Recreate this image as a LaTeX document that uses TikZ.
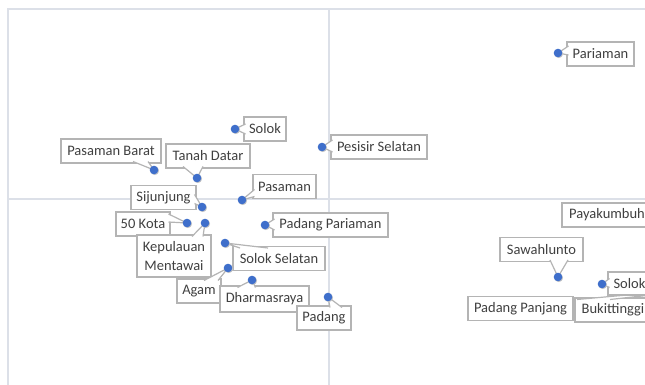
\documentclass[tikz,border=0pt]{standalone}
\usepackage{fontspec}
\setmainfont{Carlito}
\usepackage{tikz}
\usetikzlibrary{calc}
\definecolor{gridgrey}{HTML}{DCE0E8}
\definecolor{boxgrey}{HTML}{B4B4B4}
\definecolor{labeltext}{HTML}{404040}
\definecolor{dotblue}{HTML}{3F6FCB}

\tikzset{
  lbl/.style={draw=boxgrey, line width=1.2pt, fill=white, text=labeltext, inner sep=0pt, outer sep=0pt,
    minimum height=24pt, font=\fontsize{14.5}{19}\selectfont},
  wedge/.style={draw=boxgrey, line width=1.2pt, fill=white, line join=round},
  gridline/.style={draw=gridgrey, line width=1.5pt},
  pt/.style={fill=dotblue}
}

\begin{document}
\begin{tikzpicture}[x=1pt,y=-1pt]
            \useasboundingbox (0,0) rectangle (645,385);
            \clip (0,0) rectangle (645,385);

            \draw[gridline, line width=2pt] (8,385) -- (8,9) -- (645,9);
            \draw[gridline] (8,199) -- (645,199);
            \draw[gridline] (329,9) -- (329,385);

            \coordinate (pariamanPt) at (558,53);
            \coordinate (solokPt) at (235,129);
            \coordinate (pesisirPt) at (322,147);
            \coordinate (pasbaratPt) at (154,170);
            \coordinate (tanahPt) at (197,178);
            \coordinate (pasamanPt) at (242,200);
            \coordinate (sijunjungPt) at (202,207);
            \coordinate (kotaPt) at (187,223);
            \coordinate (mentawaiPt) at (205,223);
            \coordinate (padparPt) at (265,225);
            \coordinate (solselPt) at (225,243);
            \coordinate (agamPt) at (228,268);
            \coordinate (dharmasPt) at (252,280);
            \coordinate (padangPt) at (328,297);
            \coordinate (sawahPt) at (558,277);
            \coordinate (solokkotaPt) at (602,284);
            \coordinate (bukitPt) at (760,283);

            \node[lbl, minimum width=100pt] (pasbarat) at (111,151) {Pasaman Barat};
            \path[wedge] ($(pasbarat.south)+(22,-1.5)$) -- (pasbaratPt) -- ($(pasbarat.south)+(37,-1.5)$);

            \node[lbl, minimum width=84pt] (tanah) at (208,156) {Tanah Datar};
            \path[wedge] ($(tanah.south)+(-25,-1.5)$) -- (tanahPt) -- ($(tanah.south)+(-5,-1.5)$);

            \node[lbl, minimum width=42pt] (solok) at (265,129) {Solok};
            \path[wedge] ($(solok.west)+(1.5,-5)$) -- (solokPt) -- ($(solok.west)+(1.5,5)$);

            \node[lbl, minimum width=96pt] (pesisir) at (379,147) {Pesisir Selatan};
            \path[wedge] ($(pesisir.west)+(1.5,-7)$) -- (pesisirPt) -- ($(pesisir.west)+(1.5,5)$);

            \node[lbl, minimum width=63pt] (pasaman) at (284.5,186.5) {Pasaman};
            \path[wedge] ($(pasaman.west)+(1.5,3)$) -- (pasamanPt) -- ($(pasaman.west)+(1.5,10)$);

            \node[lbl, minimum width=65pt] (sijunjung) at (163.5,197.5) {Sijunjung};
            \path[wedge] ($(sijunjung.east)+(-1.5,-3)$) -- (sijunjungPt) -- ($(sijunjung.east)+(-1.5,6)$);

            \node[lbl, minimum width=54pt] (kota) at (143,224) {50 Kota};
            \path[wedge] ($(kota.east)+(-1.5,-10)$) -- (kotaPt) -- ($(kota.east)+(-1.5,-2)$);

            \node[lbl, minimum width=115pt] (padpar) at (330.5,225) {Padang Pariaman};
            \path[wedge] ($(padpar.west)+(1.5,-6)$) -- (padparPt) -- ($(padpar.west)+(1.5,5)$);

            \node[lbl, minimum width=92pt] (solsel) at (279,258.5) {Solok Selatan};
            \path[wedge] ($(solsel.north)+(-39,1.5)$) -- (solselPt) -- ($(solsel.north)+(-11,1.5)$);

            \node[lbl, minimum width=74pt, minimum height=42pt, align=center] (mentawai) at (174,256) {Kepulauan\\Mentawai};
            \path[wedge] ($(mentawai.north)+(18,1.5)$) -- (mentawaiPt) -- ($(mentawai.north)+(29,1.5)$);

            \node[lbl, minimum width=44pt] (agam) at (199,291) {Agam};
            \path[wedge] ($(agam.north)+(5,1.5)$) -- (agamPt) -- ($(agam.north)+(19,1.5)$);

            \node[lbl, minimum width=89pt, minimum height=26pt] (dharmas) at (264.5,299) {Dharmasraya};
            \path[wedge] ($(dharmas.north)+(-27,1.5)$) -- (dharmasPt) -- ($(dharmas.north)+(-9,1.5)$);

            \node[lbl, minimum width=54pt] (padang) at (324,318) {Padang};
            \path[wedge] ($(padang.north)+(6,1.5)$) -- (padangPt) -- ($(padang.north)+(18,1.5)$);

            \node[lbl, minimum width=67pt] (pariaman) at (600.5,54) {Pariaman};
            \path[wedge] ($(pariaman.west)+(1.5,-8)$) -- (pariamanPt) -- ($(pariaman.west)+(1.5,1)$);

            \node[lbl, minimum width=90pt] (payakumbuh) at (607,215) {Payakumbuh};

            \node[lbl, minimum width=83pt] (sawah) at (541.5,249.5) {Sawahlunto};
            \path[wedge] ($(sawah.south)+(8.5,-1.5)$) -- (sawahPt) -- ($(sawah.south)+(26.5,-1.5)$);

            \node[lbl, minimum width=105pt] (padpanjang) at (520.5,308.5) {Padang Panjang};

            \node[lbl, minimum width=76pt] (bukit) at (613,310) {Bukittinggi};
            \path[wedge] ($(bukit.north west)+(2,1.5)$) -- (bukitPt) -- ($(bukit.north west)+(35,1.5)$);

            \node[lbl, minimum width=43pt, minimum height=23pt] (solokkota) at (629.5,283.5) {Solok};
            \path[wedge] ($(solokkota.west)+(1.5,-5)$) -- (solokkotaPt) -- ($(solokkota.west)+(1.5,4)$);

            \foreach \p in {pariamanPt, solokPt, pesisirPt, pasbaratPt, tanahPt, pasamanPt, sijunjungPt, kotaPt,
                mentawaiPt, padparPt, solselPt, agamPt, dharmasPt, padangPt, sawahPt, solokkotaPt} {
              \fill[black!22] ($(\p)+(0.8,0.8)$) circle (4.3);
              \fill[pt] (\p) circle (4.3);
            }
        \end{tikzpicture}
\end{document}
